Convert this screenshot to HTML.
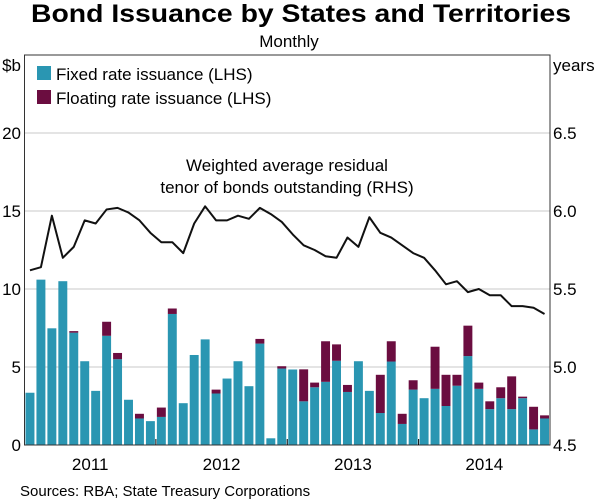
<!DOCTYPE html>
<html><head><meta charset="utf-8"><style>
body{margin:0;background:#fff;}
svg{display:block;font-family:"Liberation Sans",Arial,sans-serif;}
</style></head><body>
<svg id="chart" width="600" height="499">
<text x="301" y="22" text-anchor="middle" font-size="25" font-weight="bold" fill="#000" textLength="540" lengthAdjust="spacingAndGlyphs">Bond Issuance by States and Territories</text>
<text x="289" y="47" text-anchor="middle" font-size="17" fill="#000">Monthly</text>
<text x="21" y="71" text-anchor="end" font-size="17">$b</text>
<text x="553" y="71" font-size="17">years</text>
<g id="grid"></g>
<g id="bars"></g>
<g id="line"></g>
<g id="axes"></g>
<rect x="37" y="66" width="14" height="14" fill="#2a96b2"/>
<text x="56" y="80" font-size="17">Fixed rate issuance (LHS)</text>
<rect x="37" y="90" width="14" height="14" fill="#6b0d40"/>
<text x="56" y="104" font-size="17">Floating rate issuance (LHS)</text>
<text x="287" y="171" text-anchor="middle" font-size="17">Weighted average residual</text>
<text x="287" y="193" text-anchor="middle" font-size="17">tenor of bonds outstanding (RHS)</text>
<text x="20" y="496" font-size="15">Sources:  RBA; State Treasury Corporations</text>
</svg>
<script>
const years=["2011","2012","2013","2014"];
const leftTicks=[0,5,10,15,20];
const rightTicks=["4.5","5.0","5.5","6.0","6.5"];
const fixed=[3.35,10.6,7.48,10.5,7.2,5.37,3.47,7.0,5.5,2.9,1.7,1.53,1.8,8.4,2.68,5.77,6.77,3.3,4.26,5.37,3.77,6.5,0.43,4.9,
4.84,2.8,3.7,4.05,5.4,3.4,5.37,3.47,2.05,5.35,1.35,3.55,3.0,3.6,2.5,3.8,5.7,3.6,2.3,3.0,2.3,3.0,1.0,1.7];
const floating=[0,0,0,0,0.1,0,0,0.9,0.4,0,0.3,0,0.6,0.35,0,0,0,0.25,0,0,0,0.3,0,0.15,
0,2.05,0.3,2.6,1.05,0.45,0,0,2.45,1.3,0.65,0.6,0,2.7,2.0,0.7,1.95,0.4,0.5,0.7,2.1,0.1,1.45,0.2];
const tenor=[5.62,5.64,5.97,5.70,5.77,5.94,5.92,6.01,6.02,5.99,5.94,5.86,5.80,5.80,5.73,5.92,6.03,5.94,5.94,5.97,5.95,6.02,5.98,5.93,
5.85,5.78,5.75,5.71,5.70,5.83,5.77,5.96,5.86,5.83,5.78,5.73,5.70,5.62,5.53,5.55,5.48,5.50,5.46,5.46,5.39,5.39,5.38,5.34];
const X0=24.5,X1=550,Y0=445,YT=133,TOP=55;
const n=fixed.length, bw=(X1-X0)/n;
const yL=v=>Y0-(v/20)*(Y0-YT);
const yR=v=>Y0-((v-4.5)/2)*(Y0-YT);
const xC=i=>X0+(i+0.5)*bw;
const NS="http://www.w3.org/2000/svg";
function mk(t,a,p){const e=document.createElementNS(NS,t);for(const k in a)e.setAttribute(k,a[k]);p.appendChild(e);return e;}
const grid=document.getElementById('grid'),bars=document.getElementById('bars'),line=document.getElementById('line'),axes=document.getElementById('axes');
leftTicks.forEach((v,i)=>{
 const y=yL(v);
 if(v>0){const g=mk('line',{x1:X0,x2:X1,y1:y,y2:y,stroke:'#c8c8c8','stroke-width':1},grid);
 
 }
 const t=mk('text',{x:21,y:y+6,'text-anchor':'end','font-size':17},axes);t.textContent=v;
 
 
 const r=mk('text',{x:553,y:y+6,'font-size':17},axes);r.textContent=rightTicks[i];
 
 
});
for(let i=0;i<n;i++){
 const x=X0+i*bw+1, w=bw-2;
 const a=mk('rect',{x:x,y:yL(fixed[i]),width:w,height:Y0-yL(fixed[i]),fill:'#2a96b2'},bars);
 
 
 if(floating[i]>0){
  const b=mk('rect',{x:x,y:yL(fixed[i]+floating[i]),width:w,height:yL(fixed[i])-yL(fixed[i]+floating[i]),fill:'#6b0d40'},bars);
  
  
 }
}
const pl=mk('polyline',{points:tenor.map((v,i)=>xC(i)+','+yR(v)).join(' '),fill:'none',stroke:'#111','stroke-width':2,'stroke-linejoin':'round'},line);


const fr=mk('rect',{x:X0,y:TOP,width:X1-X0,height:Y0-TOP,fill:'none',stroke:'#333','stroke-width':1},axes);


years.forEach((yr,k)=>{
 const xs=X0+k*12*bw;
 if(k>0){const tk=mk('line',{x1:xs,x2:xs,y1:Y0,y2:Y0-6,stroke:'#000','stroke-width':1},axes);
 
 }
 const t=mk('text',{x:xs+6*bw,y:470,'text-anchor':'middle','font-size':17},axes);t.textContent=yr;
 
 
});
</script>
</body></html>
